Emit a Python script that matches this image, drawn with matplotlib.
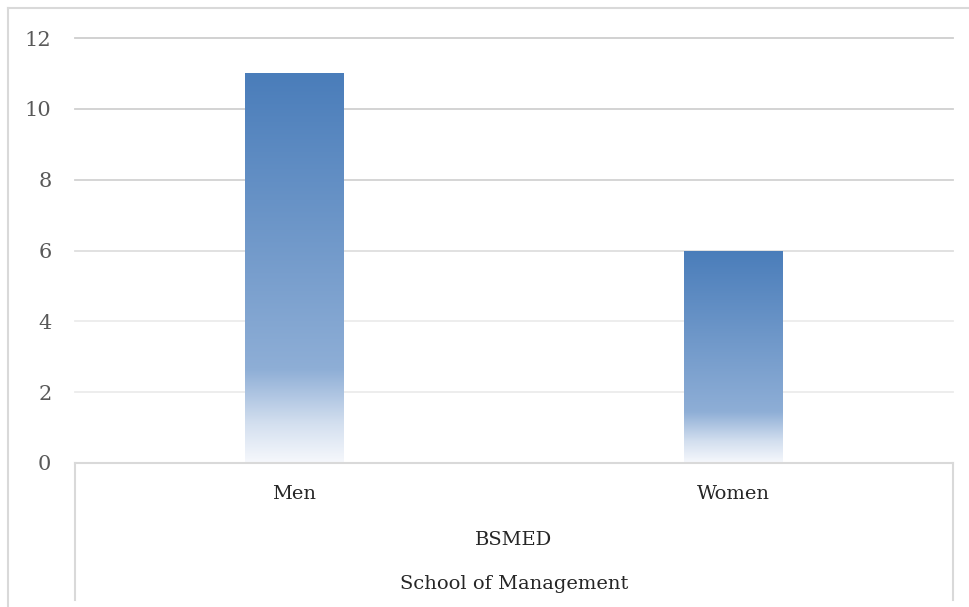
import numpy as np
import matplotlib.pyplot as plt
from matplotlib.colors import LinearSegmentedColormap
from matplotlib.lines import Line2D

# data
categories = ['Men', 'Women']
counts = [11, 6]
group_label = 'BSMED'
school_label = 'School of Management'
yticks = [0, 2, 4, 6, 8, 10, 12]

plt.rcParams['font.family'] = ['DejaVu Serif']

W, H = 970, 607
fig = plt.figure(figsize=(W / 100, H / 100), dpi=100)
ax = fig.add_axes([75 / W, 1 - 463 / H, (953 - 75) / W, (463 - 38) / H])

# light linear gradient, bottom (0) to top (1)
grad = LinearSegmentedColormap.from_list(
    'bar_grad',
    [(0.0, '#f6f8fc'), (0.10, '#d3dfef'), (0.24, '#8eaed6'), (1.0, '#4a7dba')])

x = np.arange(len(categories))
bars = ax.bar(x, counts, width=0.224, color='none', edgecolor='none', zorder=3)
for b in bars:
    x0, w, h = b.get_x(), b.get_width(), b.get_height()
    g = np.linspace(1, 0, 256).reshape(-1, 1)
    im = ax.imshow(g, cmap=grad, vmin=0, vmax=1, aspect='auto',
                   extent=[x0, x0 + w, 0, h], zorder=3, interpolation='bilinear')
    im.set_clip_path(b)

ax.set_xlim(-0.5, len(categories) - 0.5)
ax.set_ylim(0, 12)
ax.set_yticks(yticks)
ax.yaxis.grid(True, color='#d9d9d9', linewidth=1.3)
# gridlines fade a little towards the bottom
grid_cols = ['#d9d9d9', '#ececec', '#ececec', '#dedede', '#d2d2d2', '#d0d0d0', '#cecece']
for gl, c in zip(ax.get_ygridlines(), grid_cols):
    gl.set_clip_on(False)
    gl.set_color(c)
ax.set_axisbelow(True)
for s in ax.spines.values():
    s.set_visible(False)
ax.tick_params(axis='y', length=0, pad=17, labelsize=15, labelcolor='#595959')
ax.set_xticks(x)
ax.set_xticklabels(categories)
ax.tick_params(axis='x', length=0, pad=16, labelsize=14, labelcolor='#262626')

# multi-level category axis
tr = ax.get_xaxis_transform()
ax.text(0.5, -0.181, group_label, transform=tr, ha='center', va='center',
        fontsize=14, color='#262626')
ax.text(0.5, -0.285, school_label, transform=tr, ha='center', va='center',
        fontsize=14, color='#262626')

def fig_line(xs, ys):
    fig.add_artist(Line2D([v / W for v in xs], [1 - v / H for v in ys],
                          color='#d9d9d9', linewidth=1.5))

fig_line([75, 953], [463, 463])
fig_line([75, 75], [463, 600])
fig_line([953, 953], [463, 600])
# chart frame
fig_line([8, 970], [8, 8])
fig_line([8, 8], [8, 607])

fig.savefig('out.png', dpi=100)
